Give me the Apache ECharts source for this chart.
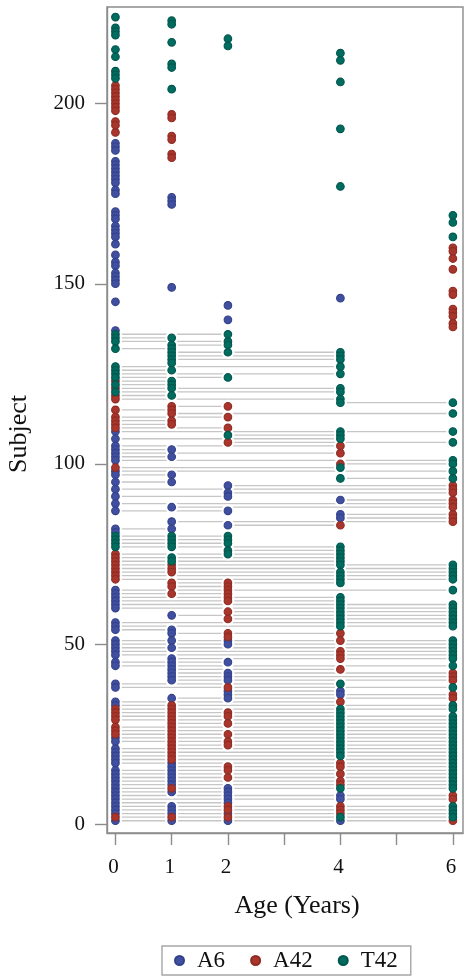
<!DOCTYPE html>
<html><head><meta charset="utf-8">
<style>html,body{margin:0;padding:0;background:#fff}#c{width:475px;height:979px}</style>
<script src="https://cdn.jsdelivr.net/npm/echarts@6/dist/echarts.min.js"></script>
</head><body><div id="c"></div>
<script>
const ages = [0, 1, 2, 4, 6];
const xTickValues = [0, 1, 2, 3, 4, 5, 6];
const xLabelValues = [0, 1, 2, 4, 6];
const yTickValues = [0, 50, 100, 150, 200];
const lastLinkedSubject = 137;

const a6Age0 = [189,188,187,184,183,182,181,180,179,178,176,175,170,169,168,166,165,164,163,161,158,156,155,153,152,151,150,145,137,109,107,105,104,103,102,101,98,97,95,93,91,89,87,82,81,65,64,63,62,61,60,56,55,54,51,50,49,48,47,45,44,39,38,34,33,24,23,21,20,19,18,17,15,14,13,12,11,10,9,8,7,6,5,4,3,1];
const a42Age0 = [205,204,203,202,201,200,199,198,195,194,192,123,121,119,118,115,113,112,111,110,99,75,74,73,72,71,70,69,68,32,31,30,29,27,26,25,2];
const t42Age0 = [224,221,220,219,215,213,209,208,207,136,135,134,132,127,126,125,124,122,120,80,79,78,77];

const a6Age1 = [174,173,172,149,104,102,97,95,88,84,82,58,54,53,51,49,46,45,44,43,42,41,40,35,17,16,15,14,13,12,11,9,5,4,3,1];
const a42Age1 = [197,196,191,190,186,185,116,115,114,112,111,72,71,70,67,66,64,33,32,31,30,29,28,27,26,25,24,23,22,21,20,19,18,10,2];
const t42Age1 = [223,222,217,211,210,204,135,133,132,131,130,129,128,126,123,122,121,119,80,79,78,77,74,73];

const a6Age2 = [144,140,94,92,91,87,83,51,50,45,42,41,40,37,36,35,10,9,8,7,6,3,1];
const a42Age2 = [116,113,110,106,67,66,65,64,63,62,59,57,53,52,38,31,30,28,25,23,22,16,15,13,5,4,2];
const t42Age2 = [218,216,136,134,133,131,124,108,80,79,78,76,75];

const a6Age4 = [146,90,86,85,37,36,8,7,1];
const a42Age4 = [105,103,100,83,53,51,48,47,46,43,34,17,16,14,12,11,5,4,3];
const t42Age4 = [214,212,206,193,177,131,130,129,127,125,121,120,118,117,109,108,107,99,96,77,76,75,74,73,72,70,69,68,67,63,62,61,60,59,58,57,56,55,39,32,31,30,29,28,27,26,25,24,23,22,21,20,19,10,2];

const a6Age6 = [];
const a42Age6 = [160,159,157,154,148,147,143,142,141,139,138,94,93,92,90,89,88,86,85,84,42,41,40,36,35,8,7,1];
const t42Age6 = [169,167,163,117,114,109,106,101,100,98,96,72,71,70,69,68,65,61,60,59,58,57,56,55,51,50,49,48,47,46,44,38,33,32,30,29,28,27,26,25,24,23,22,21,20,19,18,17,16,15,14,13,12,11,10,5,4,3,2];

const a6ByAge = [a6Age0, a6Age1, a6Age2, a6Age4, a6Age6];
const a42ByAge = [a42Age0, a42Age1, a42Age2, a42Age4, a42Age6];
const t42ByAge = [t42Age0, t42Age1, t42Age2, t42Age4, t42Age6];

const toPoints = byAge => byAge.flatMap((subjects, i) => subjects.map(s => [ages[i], s]));
const a6Points = toPoints(a6ByAge);
const a42Points = toPoints(a42ByAge);
const t42Points = toPoints(t42ByAge);
const allPoints = [...a6Points, ...a42Points, ...t42Points];

// Each follow-up subject is joined by a line from first to last visit.
const span = new Map();
allPoints.forEach(([age, s]) => {
  if (s > lastLinkedSubject) return;
  const r = span.get(s) || [age, age];
  span.set(s, [Math.min(r[0], age), Math.max(r[1], age)]);
});
const linkData = [];
span.forEach((r, s) => {
  if (r[0] === r[1]) return;
  linkData.push([r[0], s], [r[1], s], [null, null]);
});

const serif = '"Liberation Serif","Times New Roman",serif';
const dot = (name, pts, fill, edge, z) => ({
  name, type: 'scatter', data: pts, z, symbol: 'circle', symbolSize: 7.6,
  itemStyle: { color: fill, borderColor: edge, borderWidth: 1.1, opacity: 1 }
});

const chart = echarts.init(document.getElementById('c'), null, { renderer: 'canvas' });
chart.setOption({
  animation: false,
  backgroundColor: '#fff',
  grid: { left: 107, right: 12, top: 7, bottom: 146, show: true, borderColor: '#8c8c8c', borderWidth: 1.4, containLabel: false, outerBoundsMode: 'none' },
  legend: {
    data: ['A6', 'A42', 'T42'], left: 162, top: 946, icon: 'circle',
    itemWidth: 9, itemHeight: 9, itemGap: 25,
    padding: [3, 13, 3, 12], borderColor: '#a6a6a6', borderWidth: 1.4,
    textStyle: { fontFamily: serif, fontSize: 23, color: '#111', padding: [0, 0, 0, 8] }
  },
  xAxis: {
    type: 'value', min: -0.15, max: 6.18, splitLine: { show: false },
    name: 'Age (Years)', nameLocation: 'middle', nameGap: 60,
    nameTextStyle: { fontFamily: serif, fontSize: 26, color: '#111', padding: [0, 0, 0, 24] },
    axisLine: { show: true, onZero: false, lineStyle: { color: '#8c8c8c', width: 1.4 } },
    axisTick: { show: true, length: 12, customValues: xTickValues, lineStyle: { color: '#8c8c8c', width: 1.4 } },
    axisLabel: { customValues: xLabelValues, fontFamily: serif, fontSize: 21, color: '#111', margin: 24, padding: [0, 4, 0, 0], showMinLabel: true, showMaxLabel: true }
  },
  yAxis: {
    type: 'value', min: -2.4, max: 226.8, splitLine: { show: false },
    name: 'Subject', nameLocation: 'middle', nameGap: 75, nameRotate: 90,
    nameTextStyle: { fontFamily: serif, fontSize: 26, color: '#111', padding: [0, 28, 0, 0] },
    axisLine: { show: true, onZero: false, lineStyle: { color: '#8c8c8c', width: 1.4 } },
    axisTick: { show: true, length: 12, customValues: yTickValues, lineStyle: { color: '#8c8c8c', width: 1.4 } },
    axisLabel: { customValues: yTickValues, fontFamily: serif, fontSize: 21, color: '#111', margin: 22 }
  },
  series: [
    { name: 'links', type: 'line', data: linkData, z: 1, silent: true, symbol: 'none', showSymbol: false, connectNulls: false,
      lineStyle: { color: '#c6c6c6', width: 1.3 } },
    { name: 'halo', type: 'scatter', data: allPoints, z: 2, silent: true, symbol: 'circle', symbolSize: 13,
      itemStyle: { color: '#fff', opacity: 1 } },
    dot('A6', a6Points, '#40509f', '#33418c', 3),
    dot('A42', a42Points, '#a8362c', '#8f2a22', 4),
    dot('T42', t42Points, '#006b5f', '#00564c', 5)
  ]
});
</script></body></html>
